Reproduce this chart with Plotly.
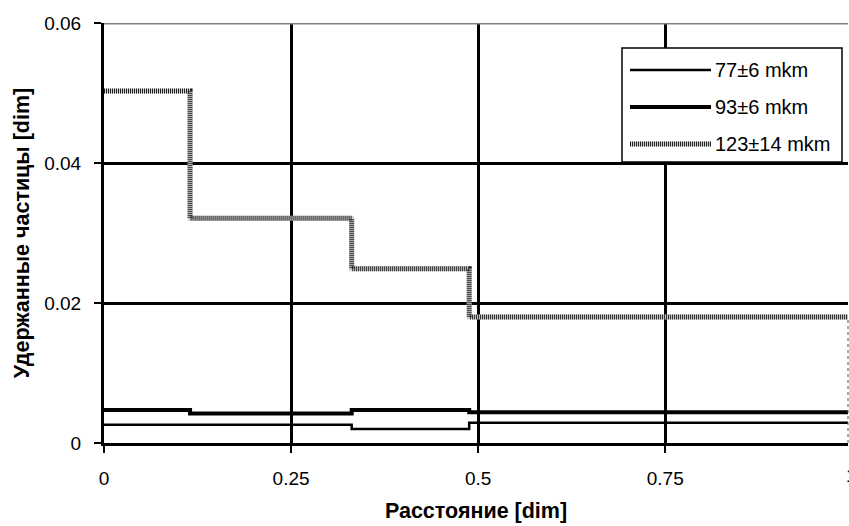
import plotly.graph_objects as go

# ---- data ----
x_edges = [0.0, 0.115, 0.331, 0.488, 1.0]
s77 = [0.0026, 0.0026, 0.0020, 0.0029]
s93 = [0.0047, 0.0042, 0.0047, 0.0044]
s123 = [0.0503, 0.0321, 0.0249, 0.0180]
series_names = ["77±6 mkm", "93±6 mkm", "123±14 mkm"]
x_ticks = [0, 0.25, 0.5, 0.75]
x_tick_labels = ["0", "0.25", "0.5", "0.75"]
y_ticks = [0, 0.02, 0.04, 0.06]
y_tick_labels = ["0", "0.02", "0.04", "0.06"]

W, H = 849, 526
ML, MR, MT, MB = 104, 1, 23, 83
PW, PH = W - ML - MR, H - MT - MB
FONT = "Liberation Sans, Arial, sans-serif"


def px_x(p):
    return (p - ML) / PW


def px_y(p):
    return (H - MB - p) / PH


def steps(vals):
    return vals + [vals[-1]]


fig = go.Figure()
fig.add_trace(go.Scatter(x=x_edges, y=steps(s77), mode="lines", line_shape="hv",
                         line=dict(color="black", width=2.5), name=series_names[0],
                         showlegend=False))
fig.add_trace(go.Scatter(x=x_edges, y=steps(s93), mode="lines", line_shape="hv",
                         line=dict(color="black", width=4), name=series_names[1],
                         showlegend=False))
fig.add_trace(go.Scatter(x=x_edges, y=steps(s123), mode="lines", line_shape="hv",
                         line=dict(color="#d4d4d4", width=5), name=series_names[2],
                         showlegend=False))
fig.add_trace(go.Scatter(x=x_edges, y=steps(s123), mode="lines", line_shape="hv",
                         line=dict(color="#202020", width=5, dash="1px,1px"),
                         name=series_names[2], showlegend=False, hoverinfo="skip"))

shapes = [
    # gray top border at 0.06
    dict(type="line", xref="paper", yref="y", x0=0, x1=1, y0=0.06, y1=0.06,
         line=dict(color="#808080", width=3)),
    # dotted right edge
    dict(type="line", xref="paper", yref="y", x0=1, x1=1, y0=0, y1=s123[-1],
         line=dict(color="#555555", width=1, dash="dot")),
    # legend box
    dict(type="rect", xref="paper", yref="paper", x0=px_x(622), x1=px_x(842),
         y0=px_y(162), y1=px_y(48), fillcolor="white",
         line=dict(color="black", width=1.5)),
]
annotations = []
leg_y = [70, 107, 144]
leg_styles = [("black", 2.5, None), ("black", 4, None), ("#d4d4d4", 5, "1px,1px")]
for yy, name, (col, wid, dash) in zip(leg_y, series_names, leg_styles):
    shapes.append(dict(type="line", xref="paper", yref="paper", x0=px_x(630), x1=px_x(711),
                       y0=px_y(yy), y1=px_y(yy), line=dict(color=col, width=wid)))
    if dash:
        shapes.append(dict(type="line", xref="paper", yref="paper", x0=px_x(630), x1=px_x(711),
                           y0=px_y(yy), y1=px_y(yy), line=dict(color="#202020", width=wid, dash=dash)))
    annotations.append(dict(xref="paper", yref="paper", x=px_x(713), y=px_y(yy), text=name,
                            showarrow=False, xanchor="left", yanchor="middle",
                            font=dict(family=FONT, size=20, color="black")))
# partially visible "1" tick label at the cropped right edge
annotations.append(dict(xref="paper", yref="paper", x=px_x(851), y=px_y(475), text="1",
                        showarrow=False, xanchor="center", yanchor="middle",
                        font=dict(family=FONT, size=19, color="black")))

fig.update_layout(
    width=W, height=H,
    margin=dict(l=ML, r=MR, t=MT, b=MB, pad=0),
    paper_bgcolor="white", plot_bgcolor="white",
    font=dict(family=FONT, size=19, color="black"),
    shapes=shapes, annotations=annotations,
    showlegend=False,
)
fig.update_xaxes(
    range=[0, 0.9942], tickvals=x_ticks, ticktext=x_tick_labels,
    showgrid=True, gridcolor="black", gridwidth=3,
    showline=True, linecolor="black", linewidth=3,
    ticks="outside", ticklen=7, tickwidth=1.5, tickcolor="black",
    ticklabelstandoff=9, zeroline=False,
    title=dict(text="<b>Расстояние [dim]</b>", font=dict(family=FONT, size=21.5), standoff=16),
)
fig.update_yaxes(
    range=[0, 0.06], tickvals=y_ticks, ticktext=y_tick_labels,
    showgrid=True, gridcolor="black", gridwidth=3,
    showline=True, linecolor="black", linewidth=3,
    ticks="outside", ticklen=7, tickwidth=1.5, tickcolor="black",
    ticklabelstandoff=9, zeroline=False,
    title=dict(text="<b>Удержанные частицы [dim]</b>", font=dict(family=FONT, size=21.5), standoff=9),
)

fig.write_html("out.html", config={"displayModeBar": False},
               post_script="document.body.style.margin='0';document.body.style.overflow='hidden';")
